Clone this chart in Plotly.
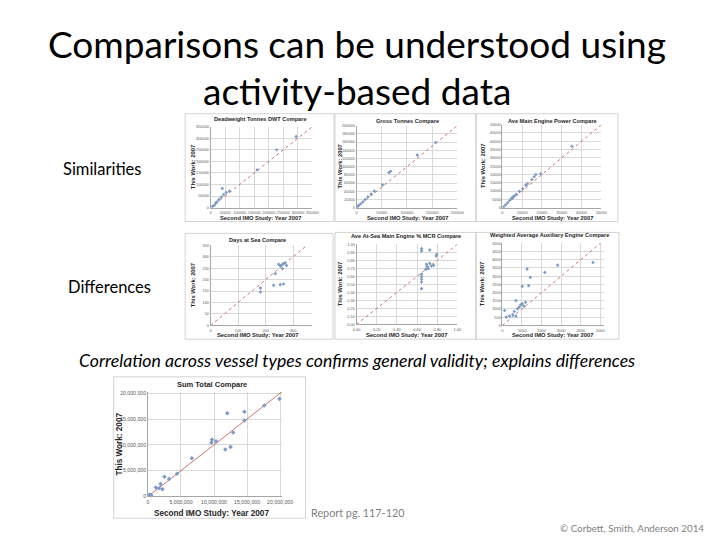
import plotly.graph_objects as go

W, H = 720, 540

# ---------------- data ----------------
dwt_second = [6700, 13400, 17900, 22400, 29000, 36900, 40300, 44700, 53700, 64800, 160000, 227000, 294000]
dwt_this = [5700, 11400, 20000, 25700, 35700, 45700, 82900, 57100, 65700, 71400, 163000, 250000, 307000]

gt_second = [1900, 4500, 8400, 12900, 17400, 22600, 29000, 35500, 51600, 64500, 67700, 120600, 156800]
gt_this = [2400, 5600, 9700, 14500, 20200, 26600, 33100, 40300, 55600, 85500, 88700, 128200, 158900]

pw_second = [660, 1660, 2650, 3640, 4640, 5300, 5960, 6950, 8600, 10260, 11920, 12750, 14900, 16060, 16890, 19370, 35100]
pw_this = [600, 1800, 3000, 4400, 5600, 6400, 7000, 8000, 9800, 11400, 13600, 14400, 17000, 18600, 20000, 20400, 37000]

days_second = [247, 253, 259, 265, 270, 276, 261, 235, 229, 253, 265, 181, 181]
days_this = [267, 260, 265, 270, 273, 262, 248, 226, 175, 178, 181, 146, 163]

mcr_second = [0.645, 0.645, 0.726, 0.645, 0.645, 0.645, 0.645, 0.645, 0.694, 0.70, 0.71, 0.726, 0.687, 0.742, 0.765, 0.79, 0.797]
mcr_this = [0.946, 0.917, 0.929, 0.625, 0.596, 0.5625, 0.529, 0.446, 0.75, 0.72, 0.696, 0.7625, 0.6875, 0.729, 0.7375, 0.854, 0.875]

aux_second = [115, 197, 361, 525, 607, 689, 770, 852, 934, 1016, 1098, 1180, 1016, 1262, 1344, 1426, 689, 2164, 2820, 4623]
aux_this = [907, 504, 565, 645, 847, 565, 1008, 1109, 1250, 1310, 1169, 1411, 2379, 3427, 2419, 2923, 1512, 3226, 3669, 3831]

sum_second = [19.9e6, 17.6e6, 14.6e6, 12.0e6, 14.6e6, 12.9e6, 12.5e6, 11.7e6, 10.3e6, 9.7e6, 9.6e6, 6.65e6,
              4.4e6, 3.2e6, 2.5e6, 1.9e6, 1.2e6, 1.7e6, 2.2e6, 0.15e6, 0.3e6, 0.5e6]
sum_this = [18.9e6, 17.6e6, 16.4e6, 16.1e6, 14.7e6, 12.4e6, 9.6e6, 9.1e6, 10.7e6, 11.0e6, 10.4e6, 7.4e6,
            4.4e6, 3.4e6, 3.8e6, 2.4e6, 1.75e6, 1.6e6, 1.4e6, 0.2e6, 0.35e6, 0.25e6]

panel_titles = ["Deadweight Tonnes DWT Compare", "Gross Tonnes Compare", "Ave Main Engine Power Compare",
                "Days at Sea Compare", "Ave At-Sea Main Engine % MCR Compare",
                "Weighted Average Auxiliary Engine Compare", "Sum Total Compare"]
x_title = "Second IMO Study: Year 2007"
y_title = "This Work: 2007"

# ---------------- layout geometry (pixels) ----------------
panels = [
    dict(plot=(211, 315, 125, 207), box=(185, 337, 112, 221), t=(262, 117), xt=(262, 217), yt=193,
         xr=[0, 350000], yr=[0, 350000], dx=50000, dy=50000, fmt="d", data=(dwt_second, dwt_this)),
    dict(plot=(360, 463, 124, 207), box=(338, 482, 112, 221), t=(412, 119), xt=(412, 217), yt=343,
         xr=[0, 200000], yr=[0, 200000], dx=50000, dy=20000, fmt="d", data=(gt_second, gt_this)),
    dict(plot=(509, 610, 123, 207), box=(482, 627, 112, 221), t=(560, 119), xt=(560, 217), yt=489,
         xr=[0, 50000], yr=[0, 50000], dx=10000, dy=5000, fmt="d", data=(pw_second, pw_this)),
    dict(plot=(211, 315, 245, 326), box=(185, 336, 233, 340), t=(259, 240), xt=(259, 336), yt=193,
         xr=[0, 370], yr=[0, 350], dx=100, dy=50, fmt="d", data=(days_second, days_this)),
    dict(plot=(360, 463, 244, 325), box=(338, 482, 232, 340), t=(411, 236), xt=(411, 336), yt=343,
         xr=[0, 1.0], yr=[0, 1.0], dx=0.2, dy=0.1, fmt=".2f", data=(mcr_second, mcr_this)),
    dict(plot=(509, 613, 243, 326), box=(482, 628, 232, 340), t=(557, 235), xt=(560, 336), yt=489,
         xr=[0, 5200], yr=[0, 5000], dx=1000, dy=500, fmt="d", data=(aux_second, aux_this)),
    dict(plot=(147, 284, 393, 499), box=(112, 308, 378, 521), t=(212, 386), xt=(212, 516), yt=117,
         xr=[0, 20.3e6], yr=[0, 20.3e6], dx=5e6, dy=5e6, fmt=",d", data=(sum_second, sum_this)),
]

def px_x(v):
    return v / W

def px_y(v):
    return 1 - v / H

fig = go.Figure()
shapes = []
annotations = []
layout_axes = {}

for i, p in enumerate(panels):
    n = "" if i == 0 else str(i + 1)
    big = (i == 6)
    x0, x1, y0, y1 = p["plot"]
    tick_font = dict(family="Liberation Sans", size=3.9 if not big else 5.2, color="#595959")
    layout_axes["xaxis" + n] = dict(
        domain=[px_x(x0), px_x(x1)], anchor="y" + n, range=p["xr"], dtick=p["dx"], tick0=0,
        tickformat=p["fmt"], showgrid=True, gridcolor="#d9d9d9", gridwidth=0.6,
        showline=True, linecolor="#a6a6a6", linewidth=0.6, zeroline=False,
        ticks="", tickfont=tick_font, tickangle=0, fixedrange=True, ticklabelstandoff=1)
    layout_axes["yaxis" + n] = dict(
        domain=[px_y(y1), px_y(y0)], anchor="x" + n, range=p["yr"], dtick=p["dy"], tick0=0,
        tickformat=p["fmt"], showgrid=True, gridcolor="#d9d9d9", gridwidth=0.6,
        showline=True, linecolor="#a6a6a6", linewidth=0.6, zeroline=False,
        ticks="", tickfont=tick_font, fixedrange=True)
    xs, ys = p["data"]
    top = max(p["xr"][1], p["yr"][1]) * 1.2
    fig.add_trace(go.Scatter(x=[0, top], y=[0, top], mode="lines", xaxis="x" + n, yaxis="y" + n,
                             line=dict(color="#c0504d", width=0.8, dash="solid" if big else "dot"),
                             showlegend=False, hoverinfo="skip"))
    fig.add_trace(go.Scatter(x=xs, y=ys, mode="markers", xaxis="x" + n, yaxis="y" + n,
                             marker=dict(symbol="diamond", size=2.8 if not big else 3.5, color="#7a9cc8"),
                             showlegend=False, cliponaxis=True))
    bx0, bx1, by0, by1 = p["box"]
    shapes.append(dict(type="rect", xref="paper", yref="paper", x0=px_x(bx0), x1=px_x(bx1),
                       y0=px_y(by1), y1=px_y(by0), line=dict(color="#c8c8c8", width=0.8),
                       fillcolor="rgba(0,0,0,0)", layer="below"))
    tsize = 5.6 if not big else 7.5
    asize = 5.8 if not big else 8.2
    annotations.append(dict(text="<b>" + panel_titles[i] + "</b>", x=px_x(p["t"][0]), y=px_y(p["t"][1]),
                            xref="paper", yref="paper", showarrow=False, xanchor="center", yanchor="middle",
                            borderpad=0,
                            font=dict(family="Liberation Sans", size=tsize, color="#262626")))
    annotations.append(dict(text="<b>" + x_title + "</b>", x=px_x(p["xt"][0]), y=px_y(p["xt"][1]),
                            xref="paper", yref="paper", showarrow=False, xanchor="center", yanchor="middle",
                            borderpad=0,
                            font=dict(family="Liberation Sans", size=asize, color="#262626")))
    annotations.append(dict(text="<b>" + y_title + "</b>", x=px_x(p["yt"]), y=px_y((y0 + y1) / 2),
                            xref="paper", yref="paper", showarrow=False, xanchor="center", yanchor="middle",
                            textangle=-90, borderpad=0,
                            font=dict(family="Liberation Sans", size=asize, color="#262626")))

# slide texts
title_font = dict(family="Lato", size=37, color="#000000")
annotations.append(dict(text="Comparisons can be understood using", x=px_x(360), y=px_y(41), xref="paper", yref="paper",
                        showarrow=False, xanchor="center", yanchor="middle", font=title_font))
annotations.append(dict(text="activity-based data", x=px_x(360), y=px_y(88), xref="paper", yref="paper",
                        showarrow=False, xanchor="center", yanchor="middle", font=title_font))
annotations.append(dict(text="Similarities", x=px_x(58), y=px_y(168), xref="paper", yref="paper",
                        showarrow=False, xanchor="left", yanchor="middle",
                        font=dict(family="Lato", size=16.5, color="#000000")))
annotations.append(dict(text="Differences", x=px_x(63), y=px_y(287), xref="paper", yref="paper",
                        showarrow=False, xanchor="left", yanchor="middle",
                        font=dict(family="Lato", size=16.5, color="#000000")))
annotations.append(dict(text="<i>Correlation across vessel types confirms general validity; explains differences</i>",
                        x=px_x(360), y=px_y(362), xref="paper", yref="paper",
                        showarrow=False, xanchor="center", yanchor="middle",
                        font=dict(family="Lato", size=17.7, color="#000000")))
annotations.append(dict(text="Report pg. 117-120", x=px_x(311), y=px_y(515), xref="paper", yref="paper",
                        showarrow=False, xanchor="left", yanchor="middle",
                        font=dict(family="Lato", size=10.8, color="#7f7f7f")))
annotations.append(dict(text="© Corbett, Smith, Anderson 2014", x=px_x(566), y=px_y(531), xref="paper", yref="paper",
                        showarrow=False, xanchor="left", yanchor="middle",
                        font=dict(family="Lato", size=9.8, color="#7f7f7f")))

fig.update_layout(width=W, height=H, margin=dict(l=0, r=0, t=0, b=0, pad=0),
                  paper_bgcolor="white", plot_bgcolor="white", showlegend=False,
                  shapes=shapes, annotations=annotations, **layout_axes)

fig.write_html("out.html", config={"displayModeBar": False},
               post_script="document.body.style.margin='0';document.body.style.overflow='hidden';")
